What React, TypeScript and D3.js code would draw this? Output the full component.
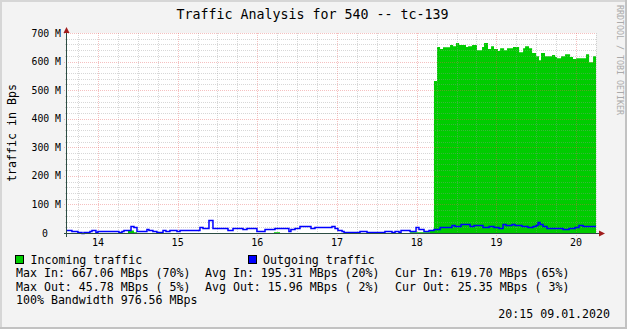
import React from "react";
import * as d3 from "d3";

// time in minutes after 14:00
const startMin = -23.3;
const endMin = 375;

const inTimes = [-23.3, 22.6, 27.1, 29.4, 132.5, 137.1, 235.0, 250.0, 253.0, 255.3, 257.6, 259.8, 265.1, 267.4, 269.6, 271.9, 277.1, 278.7, 281.7, 285.4, 289.2, 290.7, 293.7, 296.0, 298.2, 301.2, 302.8, 305.8, 308.0, 312.5, 317.1, 320.1, 321.6, 324.6, 326.9, 329.9, 332.1, 333.6, 336.6, 341.9, 344.2, 345.7, 348.7, 351.7, 355.5, 357.7, 360.0, 367.5, 369.8, 372.8];
const inValues = [0, 9, 3, 0, 3, 0, 3, 8, 532, 651, 644, 650, 658, 654, 665, 658, 651, 654, 658, 640, 651, 665, 644, 654, 644, 637, 647, 640, 647, 651, 633, 647, 654, 647, 630, 619, 605, 630, 619, 623, 616, 612, 619, 626, 616, 609, 612, 626, 598, 619];

const outTimes = [-23.3, -19.6, -15.1, -12.0, -10.5, -6.0, -4.5, -1.5, 0, 15.8, 18.1, 19.6, 24.9, 27.1, 29.4, 36.9, 38.4, 41.4, 44.4, 49.0, 51.2, 54.2, 59.5, 61.8, 76.8, 79.1, 83.6, 86.6, 97.9, 101.7, 109.2, 112.2, 119.7, 125.8, 133.3, 143.8, 145.3, 148.4, 152.1, 160.4, 163.4, 176.2, 178.5, 180.7, 183.8, 185.3, 197.3, 202.6, 216.1, 221.4, 223.7, 226.7, 228.2, 235.0, 239.5, 241.7, 245.5, 249.3, 253.0, 257.6, 266.6, 268.9, 273.4, 276.4, 280.2, 283.2, 289.9, 294.5, 298.2, 302.0, 305.0, 307.3, 311.8, 314.0, 319.3, 323.8, 327.6, 329.9, 331.4, 332.9, 335.1, 338.1, 350.2, 354.7, 359.2, 362.2, 365.3];
const outValues = [12, 8, 5, 1, 5, 8, 12, 5, 8, 5, 8, 12, 26, 22, 8, 15, 12, 8, 5, 12, 8, 12, 8, 12, 20, 17, 45, 16, 12, 16, 13, 16, 8, 15, 18, 8, 15, 18, 23, 18, 20, 25, 18, 12, 6, 2, 6, 2, 6, 2, 8, 5, 12, 8, 22, 15, 6, 12, 15, 22, 28, 24, 30, 31, 24, 28, 22, 24, 22, 17, 31, 28, 31, 28, 24, 22, 24, 28, 38, 31, 24, 17, 14, 17, 22, 28, 24];

const hourTicks = [0, 60, 120, 180, 240, 300, 360];
const hourLabels = ["14", "15", "16", "17", "18", "19", "20"];
const yTicks = [0, 100, 200, 300, 400, 500, 600, 700];
const yLabels = ["0", "100 M", "200 M", "300 M", "400 M", "500 M", "600 M", "700 M"];

const title = "Traffic Analysis for 540 -- tc-139";
const yTitle = "traffic in Bps";
const legendNames = ["Incoming traffic", "Outgoing traffic"];
const statsIn = ["Max In: 667.06 MBps (70%)", "Avg In: 195.31 MBps (20%)", "Cur In: 619.70 MBps (65%)"];
const statsOut = ["Max Out: 45.78 MBps ( 5%)", "Avg Out: 15.96 MBps ( 2%)", "Cur Out: 25.35 MBps ( 3%)"];
const bandwidth = "100% Bandwidth 976.56 MBps";
const stamp = "20:15 09.01.2020";
const watermark = "RRDTOOL / TOBI OETIKER";

const W = 627, H = 329;
const L = 67, R = 596, T = 33, B = 233;
const MONO = "'DejaVu Sans Mono', monospace";

export default function App() {
  const x = d3.scaleLinear().domain([startMin, endMin]).range([L, R]);
  const y = d3.scaleLinear().domain([0, 700]).range([B, T]);

  const inPts: [number, number][] = inTimes.map((t, i) => [t, inValues[i]]);
  inPts.push([endMin, inValues[inValues.length - 1]]);
  const outPts: [number, number][] = outTimes.map((t, i) => [t, outValues[i]]);
  outPts.push([endMin, outValues[outValues.length - 1]]);

  const area = d3.area<[number, number]>()
    .x(d => x(d[0])).y0(y(0)).y1(d => y(d[1])).curve(d3.curveStepAfter);
  const line = d3.line<[number, number]>()
    .x(d => x(d[0])).y(d => Math.round(y(d[1])) + 0.5).curve(d3.curveStepAfter);

  const minorV = d3.range(-15, endMin + 1, 15).filter(m => m % 60 !== 0);
  const minorH = d3.range(20, 701, 20).filter(v => v % 100 !== 0);

  const cols = [16, 205, 395];
  const minorStroke = "rgba(150,150,150,0.38)";
  const majorStroke = "rgba(230,90,90,0.38)";

  return (
    <svg width={W} height={H} style={{ position: "fixed", left: 0, top: 0 }} fontFamily={MONO}>
      <rect x={0} y={0} width={W} height={H} fill="#f3f3f3" />
      <rect x={0} y={0} width={W} height={2} fill="#d6d6d6" />
      <rect x={0} y={0} width={2} height={H} fill="#d6d6d6" />
      <rect x={0} y={H - 2} width={W} height={2} fill="#c2c2c2" />
      <rect x={W - 2} y={0} width={2} height={H} fill="#c2c2c2" />

      <rect x={L} y={T} width={R - L} height={B - T} fill="#ffffff" />

      <path d={area(inPts) || ""} fill="#00cc00" />

      {minorV.map(m => (
        <line key={"mv" + m} x1={Math.round(x(m)) + 0.5} x2={Math.round(x(m)) + 0.5} y1={T} y2={B + 2}
          stroke={minorStroke} strokeDasharray="1,1" />
      ))}
      {minorH.map(v => (
        <line key={"mh" + v} x1={L - 2} x2={R} y1={Math.round(y(v)) + 0.5} y2={Math.round(y(v)) + 0.5}
          stroke={minorStroke} strokeDasharray="1,1" />
      ))}
      {hourTicks.map(m => (
        <line key={"Mv" + m} x1={Math.round(x(m)) + 0.5} x2={Math.round(x(m)) + 0.5} y1={T} y2={B + 3}
          stroke={majorStroke} strokeDasharray="1,1" />
      ))}
      {yTicks.filter(v => v > 0).map(v => (
        <line key={"Mh" + v} x1={L - 3} x2={R} y1={Math.round(y(v)) + 0.5} y2={Math.round(y(v)) + 0.5}
          stroke={majorStroke} strokeDasharray="1,1" />
      ))}

      <path d={line(outPts) || ""} fill="none" stroke="#0000ff" strokeWidth={1.5} />

      {/* axes */}
      <line x1={64} x2={600} y1={B + 0.5} y2={B + 0.5} stroke="#2c4d43" strokeWidth={1} />
      <line x1={L - 0.5} x2={L - 0.5} y1={237} y2={30} stroke="#2c4d43" strokeWidth={1} />
      <path d={`M${L - 0.5},27 L${L - 3.5},33 L${L + 2.5},33 Z`} fill="#a01c1c" />
      <path d={`M605,${B + 0.5} L599,${B - 2.5} L599,${B + 3.5} Z`} fill="#a01c1c" />

      {/* y labels */}
      {yTicks.map((v, i) => (
        <text key={"yl" + v} x={v === 0 ? 48 : 61} y={y(v) + 3.5} fontSize={9.8} textAnchor="end" fill="#000">
          {yLabels[i]}
        </text>
      ))}
      {hourTicks.map((m, i) => (
        <text key={"xl" + m} x={x(m)} y={246} fontSize={10} textAnchor="middle" fill="#000">
          {hourLabels[i]}
        </text>
      ))}

      <text x={312.5} y={18.5} fontSize={13.3} textAnchor="middle" fill="#000">{title}</text>
      <text transform={`translate(16,133) rotate(-90)`} fontSize={11.6} textAnchor="middle" fill="#000">{yTitle}</text>
      <text transform={`translate(617,5) rotate(90)`} fontSize={8.3} fill="#aaaaaa">{watermark}</text>

      {/* legend */}
      <rect x={15.5} y={255.5} width={8} height={8} fill="#00cc00" stroke="#000" />
      <text x={30.5} y={263.5} fontSize={11.6} fill="#000">{legendNames[0]}</text>
      <rect x={248.5} y={255.5} width={8} height={8} fill="#0000ff" stroke="#000" />
      <text x={263} y={263.5} fontSize={11.6} fill="#000">{legendNames[1]}</text>

      {statsIn.map((s, i) => (
        <text key={"si" + i} x={cols[i]} y={277} fontSize={11.6} fill="#000" style={{ whiteSpace: "pre" }}>{s}</text>
      ))}
      {statsOut.map((s, i) => (
        <text key={"so" + i} x={cols[i]} y={290.5} fontSize={11.6} fill="#000" style={{ whiteSpace: "pre" }}>{s}</text>
      ))}
      <text x={16} y={304} fontSize={11.6} fill="#000">{bandwidth}</text>
      <text x={610} y={318} fontSize={11.6} textAnchor="end" fill="#000">{stamp}</text>
    </svg>
  );
}
